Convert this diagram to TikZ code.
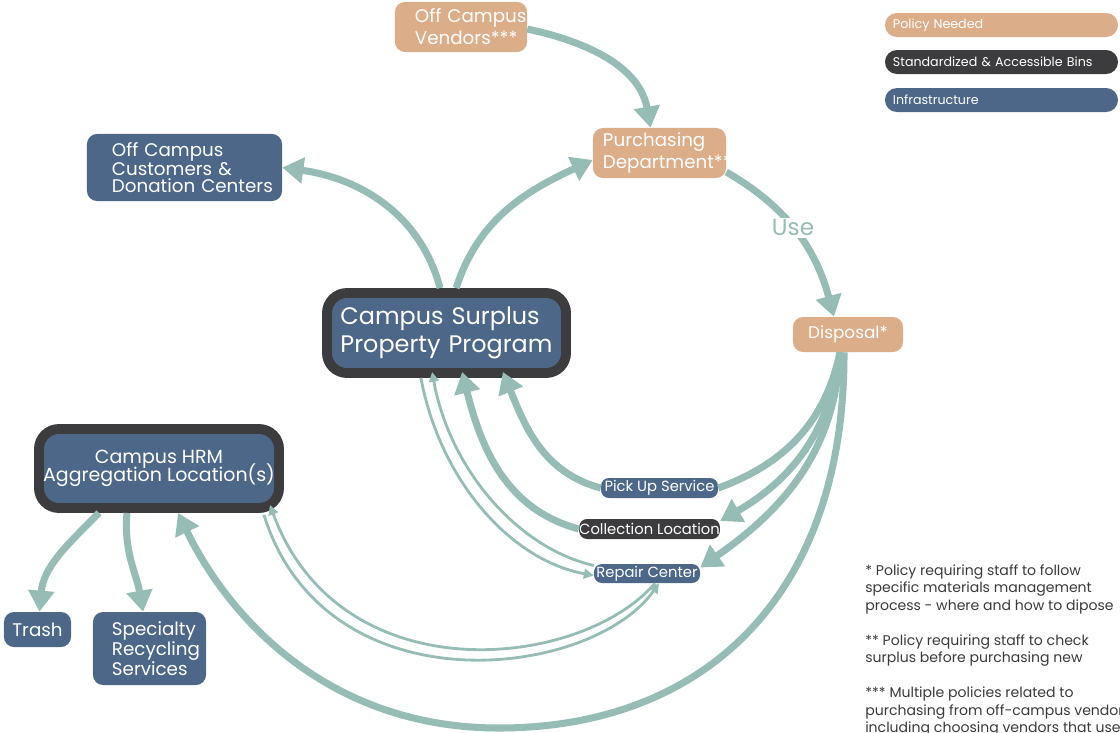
\documentclass[tikz,border=0pt]{standalone}
\usepackage{fontspec}
\setmainfont{Poppins}
\usetikzlibrary{arrows.meta,positioning}
\setlength{\lineskiplimit}{-20pt}
\hyphenpenalty=10000
\exhyphenpenalty=10000

\definecolor{infra}{HTML}{4D6789}
\definecolor{policy}{HTML}{DBAD88}
\definecolor{bins}{HTML}{3C3C3E}
\definecolor{flowc}{HTML}{95BCB5}
\definecolor{notec}{HTML}{3A3A3A}

\tikzset{
  box/.style={rounded corners=0.25cm, inner sep=0pt, text=white, align=left},
  infrabox/.style={box, fill=infra},
  policybox/.style={box, fill=policy},
  hub/.style={box, fill=infra, draw=bins, line width=7pt, rounded corners=0.5cm},
  tag/.style={box, rounded corners=0.2cm, font=\fontsize{10.5}{12}\selectfont},
  legend/.style={box, rounded corners=0.3cm, minimum height=0.6cm, text width=5.425cm,
    inner xsep=0.2cm, font=\fontsize{9}{11}\selectfont},
  flow/.style={draw=flowc, line width=5pt, -{Triangle[length=15pt,width=18pt]}},
  thinflow/.style={draw=flowc, line width=2pt, -{Triangle[length=7pt,width=7pt]}},
  uselabel/.style={fill=white, text=flowc, inner sep=1pt, font=\fontsize{16.5}{18}\selectfont},
}

\begin{document}
\begin{tikzpicture}[x=0.025cm, y=0.025cm]
  \useasboundingbox (0,0) rectangle (1120,-732);
  \clip (0,0) rectangle (1120,-732);

  % policy boxes
  \node[policybox, inner xsep=0.5cm, text width=2.3cm, minimum height=1.25cm,
    font=\fontsize{13}{15.6}\selectfont] (vendors) at (461,-27) {Off~Campus\\Vendors***};
  \node[policybox, inner xsep=0.25cm, text width=2.825cm, minimum height=1.25cm,
    font=\fontsize{13}{15.6}\selectfont] (purch) at (659.5,-153) {Purchasing\\Department**};
  \node[policybox, minimum width=2.75cm, minimum height=0.875cm,
    font=\fontsize{12}{14}\selectfont] (disposal) at (848,-334.5) {Disposal*};

  % infrastructure boxes
  \node[infrabox, inner xsep=0.625cm, text width=3.625cm, minimum height=1.675cm,
    font=\fontsize{13}{12.3}\selectfont] (cust) at (184.5,-167.5) {Off~Campus\\Customers~\&\\Donation~Centers};
  \node[hub, inner xsep=0.3375cm, text width=5.3cm, minimum height=2cm,
    font=\fontsize{17}{20}\selectfont] (cspp) at (446.5,-333) {Campus~Surplus\\Property~Program};
  \node[hub, align=center, minimum width=6cm, minimum height=1.975cm,
    font=\fontsize{13.5}{13}\selectfont] (hrm) at (159,-468.5) {Campus HRM\\Aggregation Location(s)};
  \node[infrabox, minimum width=1.675cm, minimum height=0.875cm,
    font=\fontsize{13}{13}\selectfont] (trash) at (37.5,-629.5) {Trash};
  \node[infrabox, inner xsep=0.475cm, text width=1.875cm, minimum height=1.825cm,
    font=\fontsize{13}{12.6}\selectfont] (spec) at (149.5,-648.5) {Specialty\\Recycling\\Services};

  % service tags
  \node[tag, fill=infra, minimum width=2.925cm, minimum height=0.5cm] (pickup) at (659.5,-488) {Pick Up Service};
  \node[tag, fill=bins, minimum width=3.475cm, minimum height=0.5cm] (collect) at (649.5,-529) {Collection Location};
  \node[tag, fill=infra, minimum width=2.65cm, minimum height=0.475cm] (repair) at (647,-573.5) {Repair Center};

  % legend
  \node[legend, fill=policy] (lpolicy) at (1001.5,-25) {Policy Needed};
  \node[legend, fill=bins] (lbins) at (1001.5,-62) {Standardized \& Accessible Bins};
  \node[legend, fill=infra] (linfra) at (1001.5,-100) {Infrastructure};

  % footnotes
  \node[anchor=north west, align=left, inner sep=0pt, text=notec,
    font=\fontsize{10}{12.45}\selectfont] (notes) at (865,-564)
    {* Policy requiring staff to follow\\specific materials management\\process - where and how to dipose\\[12.45pt]
     ** Policy requiring staff to check\\surplus before purchasing new\\[12.45pt]
     *** Multiple policies related to\\purchasing from off-campus vendors,\\including choosing vendors that use};

  % buying and handing on
  \draw[flow] ([yshift=-0.05cm]vendors.east) to[out=-12, in=100] ([xshift=-0.225cm]purch.north);
  \draw[flow] ([xshift=0.24cm]cspp.north) to[out=72, in=205] ([yshift=-0.175cm]purch.west);
  \draw[flow] ([xshift=-0.16cm]cspp.north) to[out=105, in=-8] (cust.east);
  \draw[flow] ([yshift=-0.475cm]purch.east) to[out=-30, in=105]
    node[uselabel, pos=0.47] (use) {Use} ([xshift=-0.35cm]disposal.north);

  % from disposal
  \coordinate (dsp) at ([xshift=-0.2cm]disposal.south);
  \draw[flow, -] (dsp) to[out=-102, in=20] (pickup.east);
  \draw[flow] (dsp) to[out=-97, in=30] ([yshift=0.2cm]collect.east);
  \draw[flow] (dsp) to[out=-93, in=35] ([yshift=0.15cm]repair.east);
  \draw[flow] ([xshift=-0.1cm]disposal.south) .. controls (845,-600) and (700,-728) .. (499,-728)
    .. controls (330,-728) and (230,-620) .. ([xshift=0.475cm]hrm.south);

  % back to the surplus program
  \draw[flow] (pickup.west) to[out=165, in=-68] ([xshift=1.41cm,yshift=0.15cm]cspp.south);
  \draw[flow] (collect.west) to[out=165, in=-76] ([xshift=0.39cm,yshift=0.15cm]cspp.south);
  \draw[thinflow] ([xshift=-0.64cm]cspp.south) .. controls (440,-480) and (510,-560) .. ([yshift=-0.05cm]repair.west);
  \draw[thinflow] ([yshift=0.2cm]repair.west) .. controls (518,-548) and (450,-470) .. ([xshift=-0.36cm,yshift=0.15cm]cspp.south);

  % repair and aggregation
  \draw[thinflow] ([xshift=0.2cm]repair.south) .. controls (580,-670) and (340,-695) .. ([xshift=-0.35cm,yshift=0.2cm]hrm.south east);
  \draw[thinflow] ([xshift=-0.5cm,yshift=-0.05cm]hrm.south east) .. controls (325,-710) and (590,-680) .. ([xshift=0.3cm]repair.south);

  % out of aggregation
  \draw[flow] ([xshift=-1.5cm]hrm.south) to[out=-135, in=85] ([xshift=0.05cm]trash.north);
  \draw[flow] ([xshift=-0.8cm]hrm.south) to[out=-95, in=100] ([xshift=-0.16cm]spec.north);
\end{tikzpicture}
\end{document}
